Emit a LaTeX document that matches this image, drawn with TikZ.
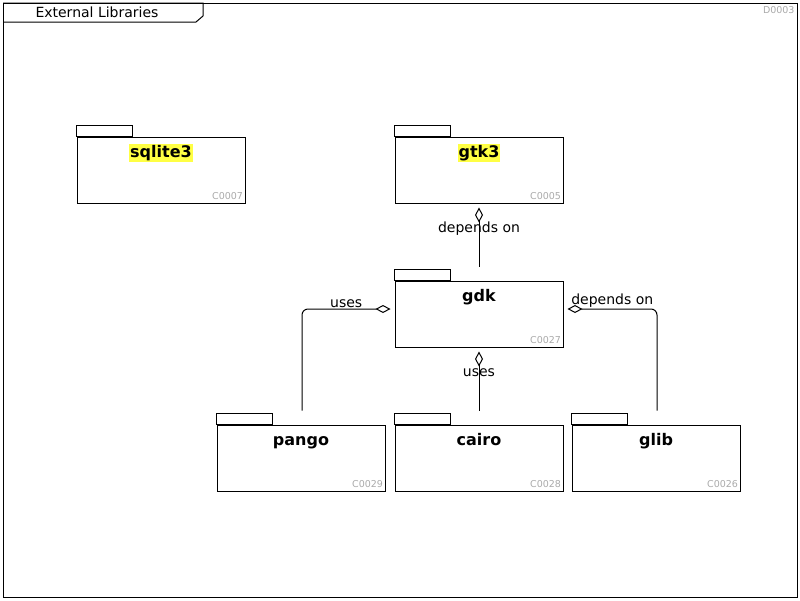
\documentclass[tikz,border=0pt]{standalone}
\usepackage{fontspec}
\setmainfont{DejaVu Sans}
\usetikzlibrary{arrows.meta,calc}
\definecolor{hlyellow}{RGB}{255,255,68}
\definecolor{idgray}{RGB}{170,170,170}
\begin{document}
\begin{tikzpicture}[x=1pt,y=-1pt,line width=1pt,
    pkg/.style = {draw,rectangle,minimum width=168pt,minimum height=66pt,inner sep=0pt},
    pkgname/.style = {font=\fontsize{16}{18}\selectfont\bfseries,inner sep=1pt,
        text height=13pt,text depth=3pt,anchor=base},
    pkgid/.style = {font=\fontsize{9.5}{11}\selectfont,text=idgray,inner sep=0pt,anchor=south east},
    lbl/.style = {font=\fontsize{14}{16}\selectfont,inner sep=1pt},
    assoc/.style = {-{Diamond[open,length=15pt,width=8pt]},rounded corners=6pt}]
                \useasboundingbox (0,0) rectangle (800,600);
                \draw (3,3) rectangle (797,597);
                \draw (3,3) -- (203,3) -- (203,16) -- (196,22) -- (3,22);
                \node[lbl] (title) at (97,12) {External Libraries};
                \node[pkgid] (diag) at (795,14) {D0003};

                \node[pkg] (sqlite3) at (161,170) {};
                \node[pkg] (gtk3) at (479,170) {};
                \node[pkg] (gdk) at (479,314) {};
                \node[pkg] (pango) at (301,458) {};
                \node[pkg] (cairo) at (479,458) {};
                \node[pkg] (glib) at (656,458) {};

                \draw (sqlite3.north west) rectangle ++(56,-11);
                \draw (gtk3.north west) rectangle ++(56,-11);
                \draw (gdk.north west) rectangle ++(56,-11);
                \draw (pango.north west) rectangle ++(56,-11);
                \draw (cairo.north west) rectangle ++(56,-11);
                \draw (glib.north west) rectangle ++(56,-11);

                \node[pkgname,fill=hlyellow] at ($(sqlite3.north)+(0,21)$) {sqlite3};
                \node[pkgname,fill=hlyellow] at ($(gtk3.north)+(0,21)$) {gtk3};
                \node[pkgname] at ($(gdk.north)+(0,21)$) {gdk};
                \node[pkgname] at ($(pango.north)+(0,21)$) {pango};
                \node[pkgname] at ($(cairo.north)+(0,21)$) {cairo};
                \node[pkgname] at ($(glib.north)+(0,21)$) {glib};

                \node[pkgid] at ([xshift=-2pt,yshift=3pt]sqlite3.south east) {C0007};
                \node[pkgid] at ([xshift=-2pt,yshift=3pt]gtk3.south east) {C0005};
                \node[pkgid] at ([xshift=-2pt,yshift=3pt]gdk.south east) {C0027};
                \node[pkgid] at ([xshift=-2pt,yshift=3pt]pango.south east) {C0029};
                \node[pkgid] at ([xshift=-2pt,yshift=3pt]cairo.south east) {C0028};
                \node[pkgid] at ([xshift=-2pt,yshift=3pt]glib.south east) {C0026};

                \draw[assoc] ($(gdk.north)+(0,-14)$) -- ([yshift=-4pt]gtk3.south)
                    node[lbl,pos=0.64] {depends on};
                \draw[assoc] ($(pango.north)+(1,-14)$) |- ([xshift=-4pt,yshift=5pt]gdk.west)
                    node[lbl,pos=0.75,above=0pt] {uses};
                \draw[assoc] ($(cairo.north)+(0,-14)$) -- ([yshift=-4pt]gdk.south)
                    node[lbl,pos=0.64] {uses};
                \draw[assoc] ($(glib.north)+(1,-14)$) |- ([xshift=4pt,yshift=5pt]gdk.east)
                    node[lbl,pos=0.75,above=0pt] {depends on};
            \end{tikzpicture}
\end{document}
